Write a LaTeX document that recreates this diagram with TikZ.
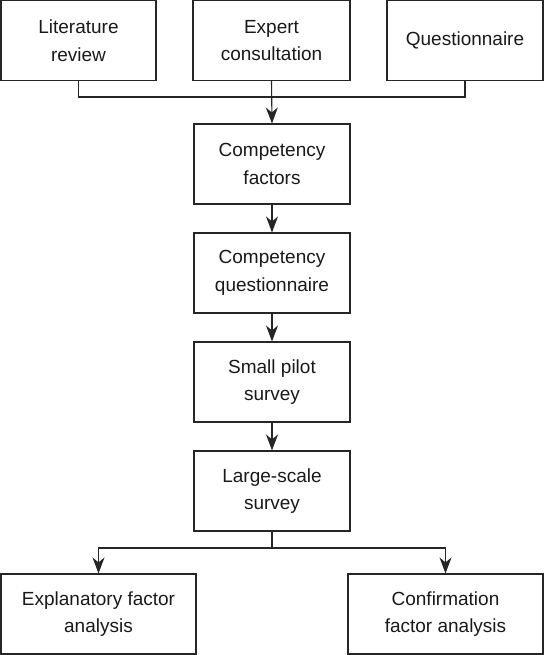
\documentclass[tikz,border=0pt]{standalone}
\usepackage{fontspec}
\setmainfont{Liberation Sans}
\usetikzlibrary{arrows.meta}
\begin{document}
\begin{tikzpicture}[x=1pt,y=-1pt,
  box/.style={draw=black!85,line width=1.1pt,rectangle,inner sep=0pt,align=center,
    font=\fontsize{19}{27.5}\selectfont,text=black!90},
  link/.style={draw=black!85,line width=1.1pt},
  arr/.style={link,-{Stealth[length=16pt,width=12pt,inset=5pt]}}]
\useasboundingbox (0,0) rectangle (544,655);
\node[box,minimum width=155pt,minimum height=80pt] (lit) at (78.5,40.5) {Literature\\review};
\node[box,minimum width=157pt,minimum height=80pt] (exp) at (271.5,40.5) {Expert\\consultation};
\node[box,minimum width=156pt,minimum height=80pt] (que) at (465,40.5) {Questionnaire};
\node[box,minimum width=156pt,minimum height=80pt] (cf) at (272,164) {Competency\\factors};
\node[box,minimum width=156pt,minimum height=80pt] (cq) at (272,273) {Competency\\questionnaire};
\node[box,minimum width=156pt,minimum height=80pt] (sp) at (272,382) {Small pilot\\survey};
\node[box,minimum width=156pt,minimum height=80pt] (ls) at (272,491) {Large-scale\\survey};
\node[box,minimum width=195pt,minimum height=80pt] (efa) at (98.5,614) {Explanatory factor\\analysis};
\node[box,minimum width=195pt,minimum height=80pt] (cfa) at (445.5,614) {Confirmation\\factor analysis};
\coordinate (j) at (272,97);
\coordinate (k) at (272,548);
\draw[link] (lit.south) |- (j) -| (que.south);
\draw[arr] (exp.south) -- (cf.north);
\draw[arr] (cf.south) -- (cq.north);
\draw[arr] (cq.south) -- (sp.north);
\draw[arr] (sp.south) -- (ls.north);
\draw[link] (ls.south) -- (k);
\draw[arr] (k) -| (efa.north);
\draw[arr] (k) -| (cfa.north);
\end{tikzpicture}
\end{document}
